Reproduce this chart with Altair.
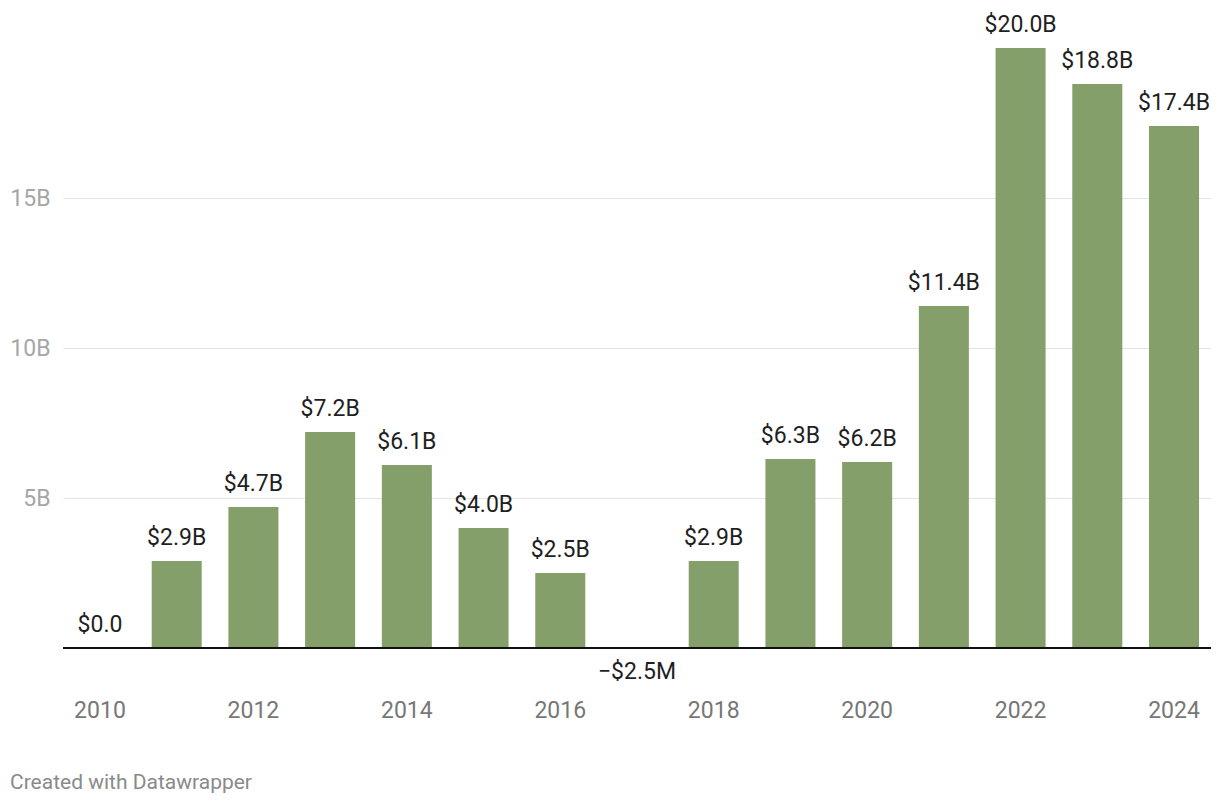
import altair as alt
import pandas as pd

years = list(range(2010, 2025))
values = [0.0, 2.9, 4.7, 7.2, 6.1, 4.0, 2.5, -0.0025, 2.9, 6.3, 6.2, 11.4, 20.0, 18.8, 17.4]
labels = ["$0.0", "$2.9B", "$4.7B", "$7.2B", "$6.1B", "$4.0B", "$2.5B", "\u2212$2.5M",
          "$2.9B", "$6.3B", "$6.2B", "$11.4B", "$20.0B", "$18.8B", "$17.4B"]
y_ticks = [5, 10, 15]
x_ticks = [2010, 2012, 2014, 2016, 2018, 2020, 2022, 2024]

df = pd.DataFrame({"year": years, "value": values, "label": labels})

FONT = "Roboto"
BAR = "#849f69"

x_enc = alt.X("year:O",
              scale=alt.Scale(paddingInner=0.348, paddingOuter=0.156),
              axis=alt.Axis(title=None, values=x_ticks, domain=False, ticks=False, grid=False,
                            labelAngle=0, labelFont=FONT, labelFontSize=23, labelColor="#777777",
                            labelPadding=51))
y_scale = alt.Scale(domain=[0, 20], nice=False, zero=True)

base = alt.Chart(df)

bars = base.mark_bar(color=BAR).encode(
    x=x_enc,
    y=alt.Y("value:Q", scale=y_scale,
            axis=alt.Axis(title=None, values=y_ticks, labelExpr="datum.value + 'B'",
                          domain=False, ticks=False, grid=True, gridColor="#e3e3e3",
                          gridWidth=1, labelFont=FONT, labelFontSize=23,
                          labelColor="#a6a6a6", labelPadding=13)),
)

pos_labels = base.transform_filter("datum.value >= 0").mark_text(
    font=FONT, fontSize=23, color="#1f1f1f", baseline="middle", dy=-23
).encode(x=alt.X("year:O"), y=alt.Y("value:Q"), text="label:N")

neg_labels = base.transform_filter("datum.value < 0").mark_text(
    font=FONT, fontSize=23, color="#1f1f1f", baseline="middle", dy=24
).encode(x=alt.X("year:O"), y=alt.datum(0), text="label:N")

baseline = alt.Chart(pd.DataFrame({"v": [0]})).mark_rule(color="#111111", strokeWidth=2).encode(
    y=alt.Y("v:Q")
)

chart = alt.layer(bars, baseline, pos_labels, neg_labels).properties(
    width=1148, height=600,
    autosize=alt.AutoSizeParams(type="none"),
    padding={"left": 55, "top": 40, "right": 0, "bottom": 150},
    title=alt.TitleParams("Created with Datawrapper", orient="bottom", anchor="start",
                          frame="group", dx=-53, offset=50, font=FONT, fontSize=21,
                          fontWeight="normal", color="#8a8a8a"),
).configure_view(stroke=None)

chart.save("out.html", embed_options={"renderer": "svg", "actions": False})
